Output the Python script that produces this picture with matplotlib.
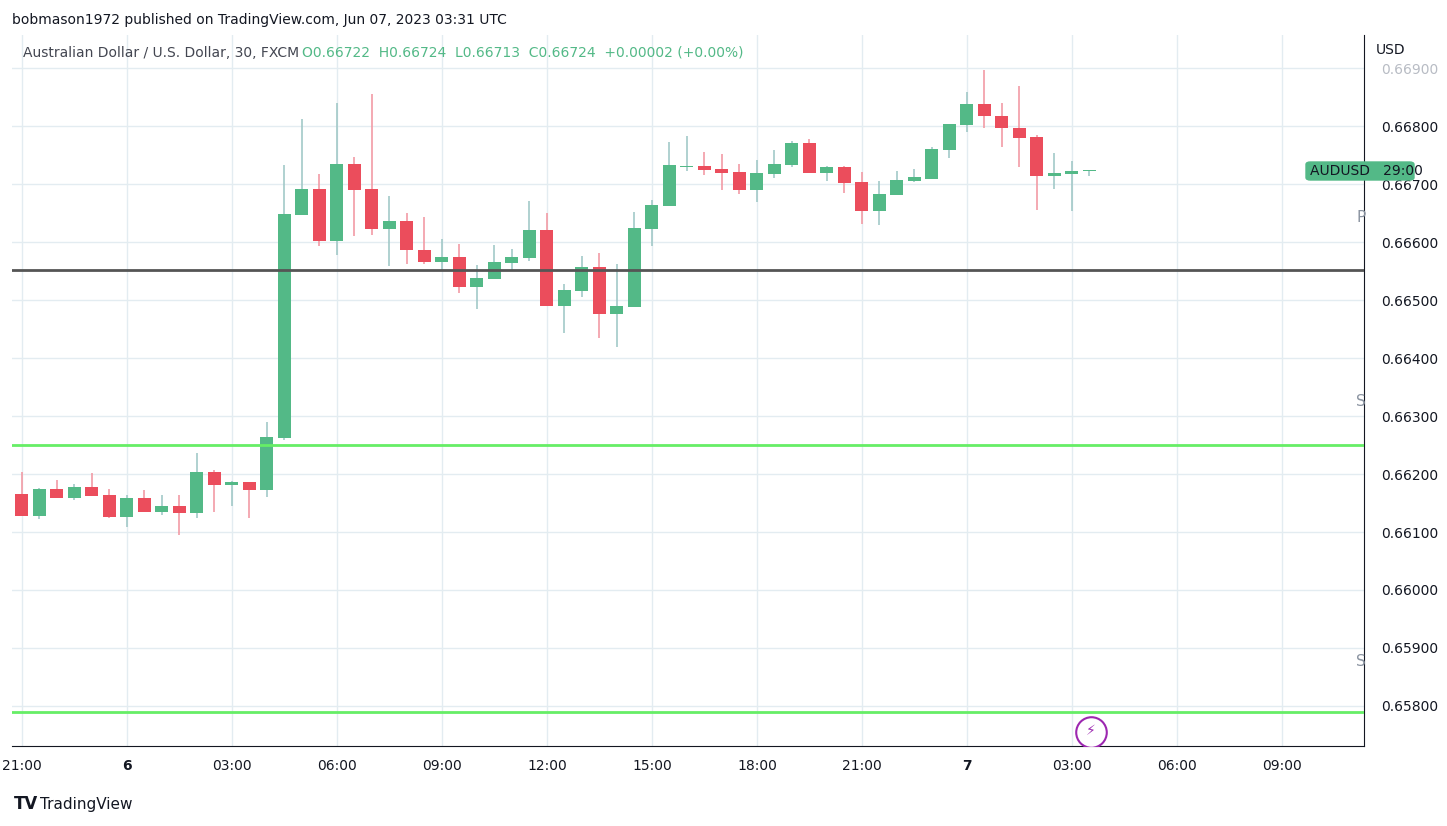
import numpy as np
import matplotlib.pyplot as plt
from matplotlib.patches import FancyBboxPatch

plt.rcParams["font.family"] = "DejaVu Sans"

# 30-minute AUDUSD candles, starting Jun 5 21:00 UTC
opens = [66166, 66128, 66174, 66159, 66178, 66164, 66126, 66159, 66135, 66145,
         66133, 66204, 66181, 66186, 66172, 66262, 66647, 66691, 66602, 66734,
         66691, 66622, 66636, 66586, 66566, 66574, 66522, 66536, 66564, 66572,
         66621, 66490, 66516, 66557, 66476, 66488, 66622, 66662, 66729, 66731,
         66726, 66721, 66690, 66717, 66733, 66771, 66719, 66729, 66703, 66653,
         66681, 66705, 66709, 66759, 66802, 66838, 66817, 66797, 66781, 66714,
         66717, 66722]
highs = [66204, 66176, 66190, 66183, 66202, 66174, 66164, 66172, 66164, 66164,
         66236, 66207, 66188, 66186, 66290, 66733, 66812, 66717, 66840, 66747,
         66855, 66679, 66650, 66643, 66605, 66597, 66560, 66595, 66588, 66671,
         66650, 66528, 66576, 66581, 66562, 66652, 66672, 66772, 66783, 66755,
         66752, 66734, 66741, 66759, 66774, 66778, 66731, 66731, 66721, 66705,
         66722, 66726, 66764, 66803, 66859, 66897, 66840, 66869, 66784, 66753,
         66740, 66724]
lows = [66128, 66122, 66159, 66155, 66162, 66124, 66109, 66135, 66129, 66095,
        66124, 66135, 66145, 66124, 66160, 66259, 66647, 66593, 66578, 66610,
        66612, 66559, 66562, 66562, 66550, 66512, 66485, 66536, 66550, 66567,
        66490, 66443, 66505, 66435, 66419, 66488, 66593, 66662, 66722, 66716,
        66690, 66683, 66669, 66710, 66729, 66719, 66705, 66684, 66631, 66629,
        66681, 66703, 66709, 66745, 66790, 66797, 66764, 66729, 66655, 66691,
        66653, 66714]
closes = [66128, 66174, 66159, 66178, 66162, 66126, 66159, 66135, 66145, 66133,
          66204, 66181, 66186, 66172, 66264, 66648, 66691, 66602, 66734, 66690,
          66622, 66636, 66586, 66566, 66574, 66522, 66538, 66566, 66574, 66621,
          66490, 66517, 66557, 66476, 66490, 66624, 66664, 66733, 66731, 66724,
          66719, 66690, 66719, 66734, 66771, 66719, 66729, 66702, 66653, 66683,
          66707, 66712, 66760, 66803, 66838, 66817, 66797, 66779, 66714, 66719,
          66722, 66724]

level_lines = [0.66552, 0.66250, 0.65790]
level_colors = ["#555555", "#66ee66", "#66ee66"]

tick_idx = [0, 6, 12, 18, 24, 30, 36, 42, 48, 54, 60, 66, 72]
tick_labels = ["21:00", "6", "03:00", "06:00", "09:00", "12:00", "15:00",
               "18:00", "21:00", "7", "03:00", "06:00", "09:00"]
price_ticks = [0.658, 0.659, 0.660, 0.661, 0.662, 0.663, 0.664, 0.665,
               0.666, 0.667, 0.668, 0.669]

o = np.array(opens) / 1e5
h = np.array(highs) / 1e5
l = np.array(lows) / 1e5
c = np.array(closes) / 1e5
x = np.arange(len(o))

GREEN, RED = "#53b987", "#eb4d5c"
GWICK, RWICK = "#a2c9c8", "#f29ba5"

fig = plt.figure(figsize=(14.47, 8.26), dpi=100)
ax = fig.add_axes([12 / 1447, 80 / 826, 1352 / 1447, 711 / 826])

ax.set_xlim(-0.57, 76.69)
ax.set_ylim(0.65731, 0.66957)

for t in tick_idx:
    ax.axvline(t, color="#e3ecf1", lw=1, zorder=0)
for p in price_ticks:
    ax.axhline(p, color="#e3ecf1", lw=1, zorder=0)

up = c >= o
ax.vlines(x[up], l[up], h[up], color=GWICK, lw=1.2, zorder=2)
ax.vlines(x[~up], l[~up], h[~up], color=RWICK, lw=1.2, zorder=2)
body = np.maximum(np.abs(c - o), 0.000025)
ax.bar(x[up], body[up], bottom=np.minimum(o, c)[up], width=0.74, color=GREEN, zorder=3)
ax.bar(x[~up], body[~up], bottom=np.minimum(o, c)[~up], width=0.74, color=RED, zorder=3)

for p, col in zip(level_lines, level_colors):
    ax.axhline(p, color=col, lw=2, zorder=4)

ax.set_xticks(tick_idx)
ax.set_xticklabels(tick_labels, fontsize=10, color="#131722")
for lab, t in zip(ax.get_xticklabels(), tick_labels):
    if t in ("6", "7"):
        lab.set_fontweight("bold")
ax.tick_params(axis="x", length=0, pad=9)
ax.yaxis.tick_right()
ax.set_yticks(price_ticks)
ax.set_yticklabels(["%.5f" % p for p in price_ticks], fontsize=10, color="#131722")
ax.tick_params(axis="y", length=0, pad=12)
ax.get_yticklabels()[-1].set_color("#b8bcc4")

for side in ["top", "left"]:
    ax.spines[side].set_visible(False)
ax.spines["right"].set_color("#131722")
ax.spines["bottom"].set_color("#131722")

fig.text(23 / 1447, 1 - 53 / 826, "Australian Dollar / U.S. Dollar, 30, FXCM",
         fontsize=10, color="#434651", va="center")
fig.text(302 / 1447, 1 - 53 / 826, "O0.66722  H0.66724  L0.66713  C0.66724  +0.00002 (+0.00%)",
         fontsize=10, color="#53b987", va="center")

fig.text(12 / 1447, 1 - 20 / 826, "bobmason1972 published on TradingView.com, Jun 07, 2023 03:31 UTC",
         fontsize=10, color="#131722", va="center")
fig.text(1376 / 1447, 1 - 50 / 826, "USD", fontsize=10, color="#131722", va="center")
fig.text(14 / 1447, 1 - 804 / 826, "TV", fontsize=12, fontweight="bold", color="#131722", va="center")
fig.text(40 / 1447, 1 - 804 / 826, "TradingView", fontsize=11, color="#131722", va="center")

# last price label
fig.patches.append(FancyBboxPatch((1306 / 1447, 1 - 180 / 826), 108 / 1447, 18 / 826,
                                  boxstyle="round,pad=0,rounding_size=0.003",
                                  transform=fig.transFigure, color=GREEN, zorder=5))
fig.text(1310 / 1447, 1 - 171 / 826, "AUDUSD   29:00", fontsize=10, color="#131722",
         va="center", zorder=6)
for ty, s in [(218, "P"), (401, "S"), (661, "S")]:
    fig.text(1356 / 1447, 1 - ty / 826, s, fontsize=11, color="#8a93a0", va="center")

ax.plot([61.1], [0.65756], marker="o", ms=22, mfc="white", mec="#9c27b0", mew=1.5, zorder=5)
ax.text(61.1, 0.65756, "⚡", ha="center", va="center", fontsize=10, color="#9c27b0", zorder=6)

fig.savefig("out.png", dpi=100)
